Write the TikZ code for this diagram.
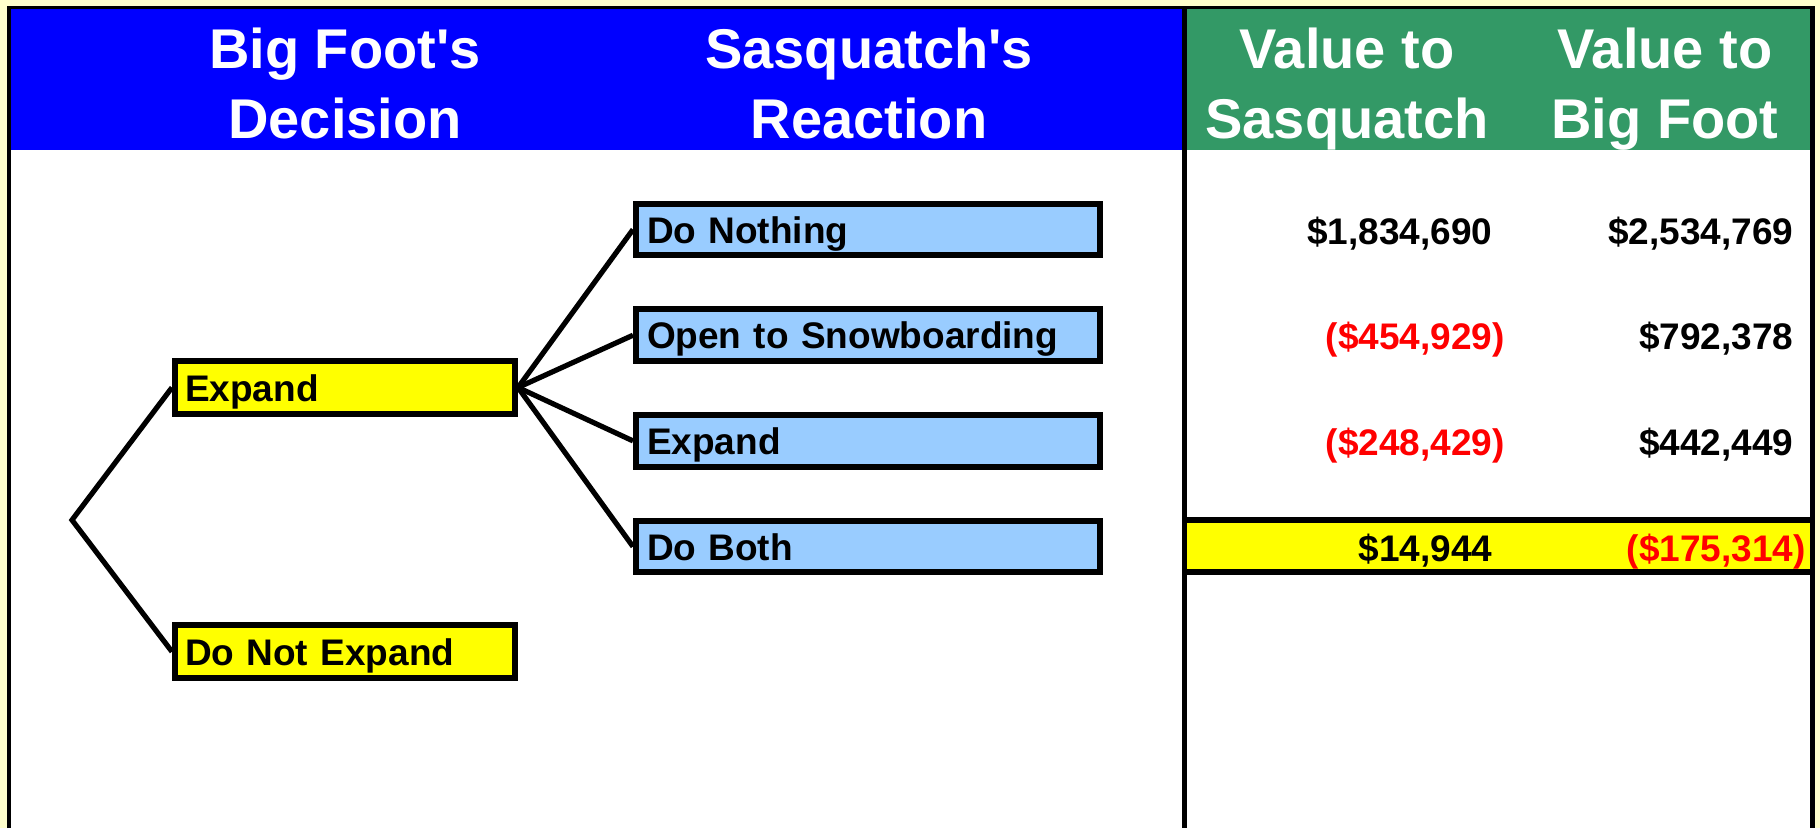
\documentclass[tikz,border=0pt]{standalone}
\usepackage{fontspec}
\setmainfont{Liberation Sans}
\usepackage{xcolor}
\definecolor{pagebg}{HTML}{FFFFCC}
\definecolor{headblue}{HTML}{0000FF}
\definecolor{headgreen}{HTML}{339966}
\definecolor{boxblue}{HTML}{99CCFF}
\definecolor{boxyellow}{HTML}{FFFF00}
\definecolor{lossred}{HTML}{FF0000}
\newcommand{\gain}[1]{#1\phantom{)}}
\newcommand{\loss}[1]{\textcolor{lossred}{#1}}

\begin{document}
\begin{tikzpicture}[x=1pt, y=-1pt,
        header/.style={text=white, font=\fontsize{56}{70}\selectfont\bfseries, align=center, anchor=base, inner sep=0pt},
        choice/.style={draw, line width=6pt, inner sep=0pt, font=\fontsize{37}{44}\selectfont\bfseries,
            text height=31pt, text depth=4pt, align=left},
        bigfoot/.style={choice, fill=boxyellow, minimum width=340pt, minimum height=53pt, text width=320pt},
        reaction/.style={choice, fill=boxblue, minimum width=464pt, minimum height=51.5pt, text width=442pt},
        payoff/.style={font=\fontsize{37}{44}\selectfont\bfseries, anchor=base east, inner sep=0pt},
        branch/.style={line width=5.2pt}]
        \useasboundingbox (0,0) rectangle (1820,828);
        % Sheet, headers and frame
        \fill[pagebg] (0,0) rectangle (1820,828);
        \fill[white] (9,8) rectangle (1812,828);
        \fill[headblue] (9,8) rectangle (1184,150);
        \fill[headgreen] (1184,8) rectangle (1812,150);
        \fill[boxyellow] (1184,520) rectangle (1812,572);
        \draw[line width=6pt] (1184,520) -- (1812,520) (1184,572) -- (1812,572);
        \draw[line width=5.7pt] (1184.5,8) -- (1184.5,828);
        \draw[line width=3.4pt] (9,828) -- (9,7.7) -- (1812.5,7.7);
        \draw[line width=5pt] (1812.5,6) -- (1812.5,828);
        \node[header] (hdecision) at (345,138) {Big Foot\textquotesingle s\\Decision};
        \node[header] (hreaction) at (869,138) {Sasquatch\textquotesingle s\\Reaction};
        \node[header] (hvalsasq) at (1347,138) {Value to\\Sasquatch};
        \node[header] (hvalbig) at (1665,138) {Value to\\Big Foot};
        % Big Foot's decision
        \coordinate (root) at (72,520);
        \node[bigfoot] (expand) at (345,387.5) {Expand};
        \node[bigfoot] (noexpand) at (345,651.7) {Do Not Expand};
        \draw[branch] (expand.west) -- (root) -- (noexpand.west);
        % Sasquatch's reaction and the payoffs
        \foreach \lbl/\sv/\bv [count=\i from 0] in {
            Do Nothing/{\gain{\$1,834,690}}/{\gain{\$2,534,769}},
            Open to Snowboarding/{\loss{(\$454,929)}}/{\gain{\$792,378}},
            Expand/{\loss{(\$248,429)}}/{\gain{\$442,449}},
            Do Both/{\gain{\$14,944}}/{\loss{(\$175,314)}}} {
            \node[reaction] (react\i) at (868,{229.5+105.7*\i}) {\lbl};
            \draw[branch] (expand.east) -- (react\i.west);
            \node[payoff] (vsasq\i) at (1505,{244+105.7*\i}) {\sv};
            \node[payoff] (vbig\i) at (1806,{244+105.7*\i}) {\bv};
        }
    \end{tikzpicture}
\end{document}
